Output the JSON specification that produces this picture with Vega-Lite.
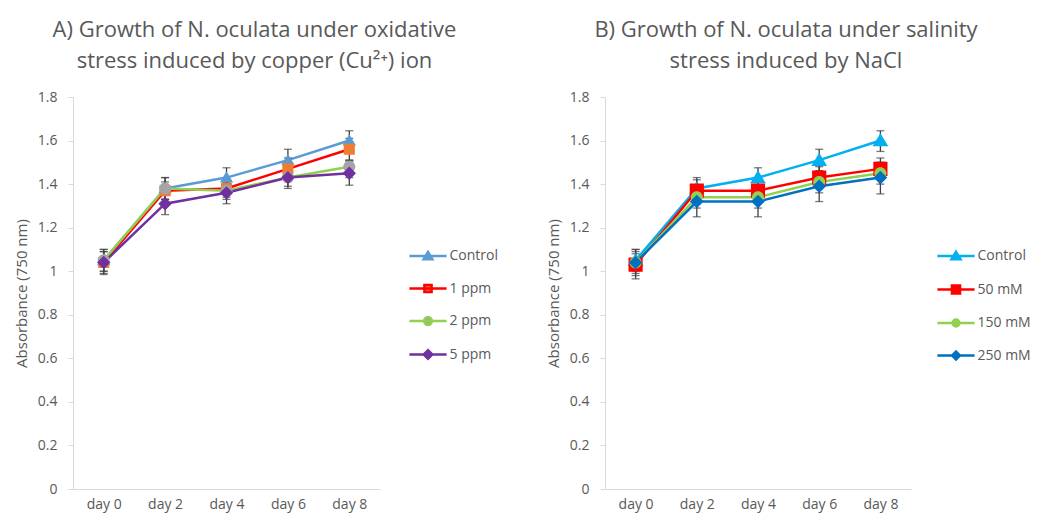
{
  "$schema": "https://vega.github.io/schema/vega-lite/v6.json",
  "padding": {"left": 14, "top": 19, "right": 5, "bottom": 2},
  "datasets": {
    "A": [
      {"series": "Control", "day": "day 0", "value": 1.05, "lo": 1.0, "hi": 1.1},
      {"series": "Control", "day": "day 2", "value": 1.38, "lo": 1.33, "hi": 1.43},
      {"series": "Control", "day": "day 4", "value": 1.43, "lo": 1.38, "hi": 1.475},
      {"series": "Control", "day": "day 6", "value": 1.51, "lo": 1.46, "hi": 1.56},
      {"series": "Control", "day": "day 8", "value": 1.6, "lo": 1.55, "hi": 1.645},
      {"series": "1 ppm", "day": "day 0", "value": 1.04, "lo": 0.99, "hi": 1.09},
      {"series": "1 ppm", "day": "day 2", "value": 1.37, "lo": 1.33, "hi": 1.41},
      {"series": "1 ppm", "day": "day 4", "value": 1.38, "lo": 1.34, "hi": 1.42},
      {"series": "1 ppm", "day": "day 6", "value": 1.47, "lo": 1.42, "hi": 1.52},
      {"series": "1 ppm", "day": "day 8", "value": 1.56, "lo": 1.51, "hi": 1.61},
      {"series": "2 ppm", "day": "day 0", "value": 1.05, "lo": 1.0, "hi": 1.1},
      {"series": "2 ppm", "day": "day 2", "value": 1.38, "lo": 1.33, "hi": 1.43},
      {"series": "2 ppm", "day": "day 4", "value": 1.37, "lo": 1.33, "hi": 1.41},
      {"series": "2 ppm", "day": "day 6", "value": 1.43, "lo": 1.39, "hi": 1.47},
      {"series": "2 ppm", "day": "day 8", "value": 1.48, "lo": 1.43, "hi": 1.51},
      {"series": "5 ppm", "day": "day 0", "value": 1.04, "lo": 0.985, "hi": 1.09},
      {"series": "5 ppm", "day": "day 2", "value": 1.31, "lo": 1.26, "hi": 1.36},
      {"series": "5 ppm", "day": "day 4", "value": 1.36, "lo": 1.31, "hi": 1.41},
      {"series": "5 ppm", "day": "day 6", "value": 1.43, "lo": 1.38, "hi": 1.48},
      {"series": "5 ppm", "day": "day 8", "value": 1.45, "lo": 1.395, "hi": 1.505}
    ],
    "B": [
      {"series": "Control", "day": "day 0", "value": 1.05, "lo": 1.0, "hi": 1.1},
      {"series": "Control", "day": "day 2", "value": 1.38, "lo": 1.33, "hi": 1.43},
      {"series": "Control", "day": "day 4", "value": 1.43, "lo": 1.38, "hi": 1.475},
      {"series": "Control", "day": "day 6", "value": 1.51, "lo": 1.46, "hi": 1.56},
      {"series": "Control", "day": "day 8", "value": 1.6, "lo": 1.55, "hi": 1.645},
      {"series": "50 mM", "day": "day 0", "value": 1.03, "lo": 0.98, "hi": 1.08},
      {"series": "50 mM", "day": "day 2", "value": 1.37, "lo": 1.32, "hi": 1.42},
      {"series": "50 mM", "day": "day 4", "value": 1.37, "lo": 1.33, "hi": 1.41},
      {"series": "50 mM", "day": "day 6", "value": 1.43, "lo": 1.38, "hi": 1.48},
      {"series": "50 mM", "day": "day 8", "value": 1.47, "lo": 1.42, "hi": 1.52},
      {"series": "150 mM", "day": "day 0", "value": 1.04, "lo": 0.99, "hi": 1.09},
      {"series": "150 mM", "day": "day 2", "value": 1.34, "lo": 1.29, "hi": 1.39},
      {"series": "150 mM", "day": "day 4", "value": 1.34, "lo": 1.29, "hi": 1.39},
      {"series": "150 mM", "day": "day 6", "value": 1.41, "lo": 1.36, "hi": 1.46},
      {"series": "150 mM", "day": "day 8", "value": 1.45, "lo": 1.4, "hi": 1.5},
      {"series": "250 mM", "day": "day 0", "value": 1.04, "lo": 0.965, "hi": 1.1},
      {"series": "250 mM", "day": "day 2", "value": 1.32, "lo": 1.25, "hi": 1.39},
      {"series": "250 mM", "day": "day 4", "value": 1.32, "lo": 1.25, "hi": 1.39},
      {"series": "250 mM", "day": "day 6", "value": 1.39, "lo": 1.32, "hi": 1.46},
      {"series": "250 mM", "day": "day 8", "value": 1.43, "lo": 1.355, "hi": 1.5}
    ]
  },
  "hconcat": [
    {
      "width": 307,
      "height": 392,
      "data": {"name": "A"},
      "title": {"text": ["A) Growth of N. oculata under oxidative", "stress induced by copper (Cu²⁺) ion"]},
      "encoding": {
        "x": {"field": "day", "type": "ordinal", "sort": ["day 0", "day 2", "day 4", "day 6", "day 8"], "scale": {"type": "point", "padding": 0.5}, "axis": {"title": null, "labelAngle": 0, "ticks": false, "labelPadding": 8}}
      },
      "layer": [
        {
          "mark": {"type": "line", "strokeWidth": 2.5},
          "encoding": {
            "y": {"field": "value", "type": "quantitative", "title": "Absorbance (750 nm)", "scale": {"domain": [0, 1.8], "nice": false, "zero": true}, "axis": {"values": [0, 0.2, 0.4, 0.6, 0.8, 1, 1.2, 1.4, 1.6, 1.8], "labelExpr": "'' + datum.value"}},
            "stroke": {"field": "series", "type": "nominal", "sort": ["Control", "1 ppm", "2 ppm", "5 ppm"], "scale": {"domain": ["Control", "1 ppm", "2 ppm", "5 ppm"], "range": ["#5B9BD5", "#FF0000", "#92D050", "#7030A0"]}, "legend": {"title": null, "orient": "none", "legendX": 348, "legendY": 152}}
          }
        },
        {
          "mark": {"type": "errorbar", "color": "#404040", "thickness": 1.3, "ticks": {"size": 8, "color": "#404040", "thickness": 1.3}},
          "encoding": {
            "y": {"field": "lo", "type": "quantitative", "title": "Absorbance (750 nm)"},
            "y2": {"field": "hi"}
          }
        },
        {
          "mark": {"type": "point", "filled": true, "opacity": 1, "size": 85},
          "encoding": {
            "y": {"field": "value", "type": "quantitative", "title": "Absorbance (750 nm)"},
            "fill": {"field": "series", "type": "nominal", "sort": ["Control", "1 ppm", "2 ppm", "5 ppm"], "scale": {"domain": ["Control", "1 ppm", "2 ppm", "5 ppm"], "range": ["#5B9BD5", "#ED7D31", "#A5A5A5", "#7030A0"]}, "legend": {"title": null, "orient": "none", "legendX": 348, "legendY": 152}},
            "shape": {"field": "series", "type": "nominal", "sort": ["Control", "1 ppm", "2 ppm", "5 ppm"], "scale": {"domain": ["Control", "1 ppm", "2 ppm", "5 ppm"], "range": [
              "M-6.2,0H6.2M0,-1.35L1.45,1.05H-1.45Z",
              "M-6.2,0H6.2M-1.2,-1.2H1.2V1.2H-1.2Z",
              "M-6.2,0H6.2M-1.3,0A1.3,1.3,0,1,0,1.3,0A1.3,1.3,0,1,0,-1.3,0Z",
              "M-6.2,0H6.2M0,-1.45L1.45,0L0,1.45L-1.45,0Z"
            ]}, "legend": {"title": null, "orient": "none", "legendX": 348, "legendY": 152}}
          }
        }
      ]
    },
    {
      "width": 306,
      "height": 392,
      "data": {"name": "B"},
      "title": {"text": ["B) Growth of N. oculata under salinity", "stress induced by NaCl"]},
      "encoding": {
        "x": {"field": "day", "type": "ordinal", "sort": ["day 0", "day 2", "day 4", "day 6", "day 8"], "scale": {"type": "point", "padding": 0.5}, "axis": {"title": null, "labelAngle": 0, "ticks": false, "labelPadding": 8}}
      },
      "layer": [
        {
          "mark": {"type": "line", "strokeWidth": 2.5},
          "encoding": {
            "y": {"field": "value", "type": "quantitative", "title": "Absorbance (750 nm)", "scale": {"domain": [0, 1.8], "nice": false, "zero": true}, "axis": {"values": [0, 0.2, 0.4, 0.6, 0.8, 1, 1.2, 1.4, 1.6, 1.8], "labelExpr": "'' + datum.value"}},
            "stroke": {"field": "series", "type": "nominal", "sort": ["Control", "50 mM", "150 mM", "250 mM"], "scale": {"domain": ["Control", "50 mM", "150 mM", "250 mM"], "range": ["#00B0F0", "#FF0000", "#92D050", "#0070C0"]}, "legend": {"title": null, "orient": "none", "legendX": 344, "legendY": 152}}
          }
        },
        {
          "mark": {"type": "errorbar", "color": "#404040", "thickness": 1.3, "ticks": {"size": 8, "color": "#404040", "thickness": 1.3}},
          "encoding": {
            "y": {"field": "lo", "type": "quantitative", "title": "Absorbance (750 nm)"},
            "y2": {"field": "hi"}
          }
        },
        {
          "mark": {"type": "point", "filled": true, "opacity": 1, "size": 110},
          "encoding": {
            "y": {"field": "value", "type": "quantitative", "title": "Absorbance (750 nm)"},
            "fill": {"field": "series", "type": "nominal", "sort": ["Control", "50 mM", "150 mM", "250 mM"], "scale": {"domain": ["Control", "50 mM", "150 mM", "250 mM"], "range": ["#00B0F0", "#FF0000", "#92D050", "#0070C0"]}, "legend": {"title": null, "orient": "none", "legendX": 344, "legendY": 152}},
            "shape": {"field": "series", "type": "nominal", "sort": ["Control", "50 mM", "150 mM", "250 mM"], "scale": {"domain": ["Control", "50 mM", "150 mM", "250 mM"], "range": [
              "M-6.2,0H6.2M0,-1.4L1.5,1.1H-1.5Z",
              "M-6.2,0H6.2M-1.35,-1.35H1.35V1.35H-1.35Z",
              "M-6.2,0H6.2M-1.15,0A1.15,1.15,0,1,0,1.15,0A1.15,1.15,0,1,0,-1.15,0Z",
              "M-6.2,0H6.2M0,-1.3L1.3,0L0,1.3L-1.3,0Z"
            ]}, "legend": {"title": null, "orient": "none", "legendX": 344, "legendY": 152}}
          }
        }
      ]
    }
  ],
  "spacing": 48,
  "resolve": {"scale": {"stroke": "independent", "fill": "independent", "shape": "independent", "x": "independent", "y": "independent"}, "legend": {"stroke": "independent", "fill": "independent", "shape": "independent"}},
  "config": {
    "view": {"stroke": null},
    "font": "Open Sans",
    "axis": {"grid": false, "domainColor": "#D9D9D9", "tickColor": "#D9D9D9", "tickSize": 5, "labelColor": "#595959", "labelFont": "Open Sans", "labelFontSize": 14, "titleFont": "Open Sans", "titleFontSize": 15, "titleFontWeight": "normal", "titleColor": "#595959", "labelPadding": 11, "titlePadding": 8},
    "legend": {"labelFont": "Open Sans", "labelFontSize": 14, "labelColor": "#595959", "symbolSize": 36, "symbolStrokeWidth": 2.5, "rowPadding": 14.5, "labelOffset": 14.5, "padding": 0},
    "title": {"font": "Open Sans", "fontSize": 22, "fontWeight": "normal", "color": "#595959", "lineHeight": 31, "anchor": "middle", "dx": 28, "offset": 17}
  }
}
